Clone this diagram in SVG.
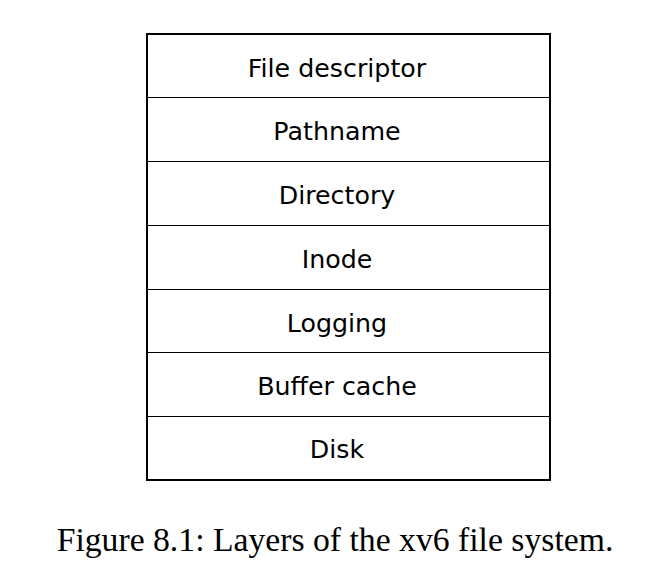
<svg xmlns="http://www.w3.org/2000/svg" width="653" height="584" viewBox="0 0 653 584">
<style>
.lbl{font-family:"DejaVu Sans",sans-serif;font-size:25.3px;fill:#000;text-anchor:middle}
.div{stroke:#000;stroke-width:1.2}
.cap{font-family:"Liberation Serif",serif;font-size:33.7px;fill:#000;text-anchor:middle}
</style>
<rect width="653" height="584" fill="#fff"/>
<g id="connectors">
<line class="div" x1="147" y1="97.5" x2="550" y2="97.5"/>
<line class="div" x1="147" y1="161.5" x2="550" y2="161.5"/>
<line class="div" x1="147" y1="225.5" x2="550" y2="225.5"/>
<line class="div" x1="147" y1="289.5" x2="550" y2="289.5"/>
<line class="div" x1="147" y1="352.5" x2="550" y2="352.5"/>
<line class="div" x1="147" y1="416.5" x2="550" y2="416.5"/>
</g>
<g id="frame"><rect x="147" y="34" width="403" height="446" fill="none" stroke="#000" stroke-width="2"/></g>
<g id="n1"><text class="lbl" x="337" y="77">File descriptor</text></g>
<g id="n2"><text class="lbl" x="337" y="140">Pathname</text></g>
<g id="n3"><text class="lbl" x="337" y="204">Directory</text></g>
<g id="n4"><text class="lbl" x="337" y="268">Inode</text></g>
<g id="n5"><text class="lbl" x="337" y="332">Logging</text></g>
<g id="n6"><text class="lbl" x="337" y="395">Buffer cache</text></g>
<g id="n7"><text class="lbl" x="337" y="458">Disk</text></g>
<g id="caption"><text class="cap" x="335" y="551">Figure 8.1: Layers of the xv6 file system.</text></g>
</svg>
